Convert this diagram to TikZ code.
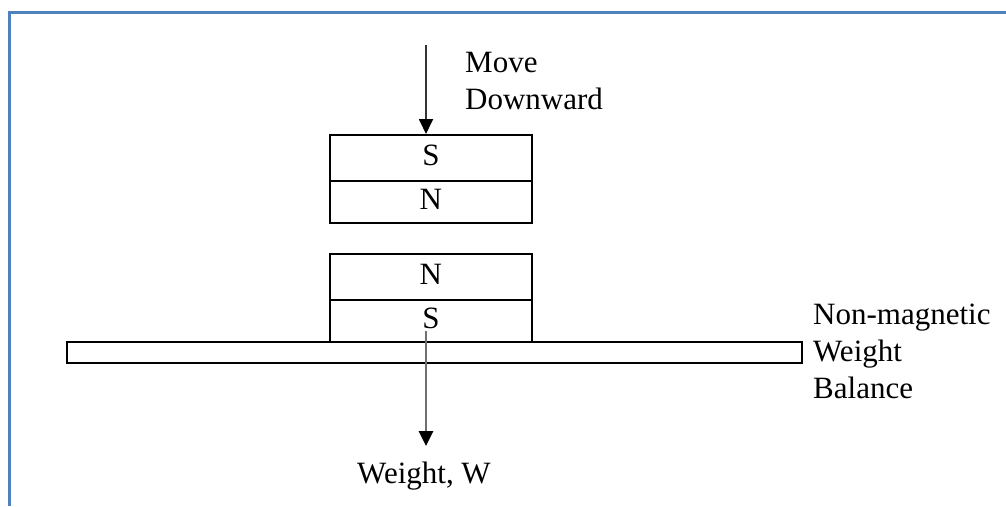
\documentclass[tikz,border=0pt]{standalone}
\usepackage{fontspec}
\setmainfont{Liberation Serif}
\usetikzlibrary{arrows.meta}
\definecolor{framecol}{RGB}{79,129,189}
\definecolor{wgray}{RGB}{112,112,112}
\tikzset{
  pole/.style={draw=black, line width=1.8pt, minimum width=202pt, inner sep=0pt, text height=20pt, text depth=5pt, font=\fontsize{31}{37}\selectfont},
  lbl/.style={inner sep=0pt, align=left, font=\fontsize{31}{37}\selectfont},
  arr/.style={-{Triangle[length=15pt,width=14pt,color=black]}},
}
\begin{document}
\begin{tikzpicture}[x=1pt,y=-1pt]
\useasboundingbox (0,0) rectangle (1006,506);
% frame
\draw[framecol, line width=3pt] (1006,12.5) -- (9.5,12.5) -- (9.5,506);
% balance platform
\node[draw=black, line width=1.8pt, minimum width=735pt, minimum height=21pt, inner sep=0pt, anchor=north west] (plat) at (66,341) {};
% top magnet
\node[pole, minimum height=46pt, anchor=north west] (tS) at (329,134) {S};
\node[pole, minimum height=42pt, anchor=north west] (tN) at (329,180) {N};
% bottom magnet
\node[pole, minimum height=46pt, anchor=north west] (bN) at (329,253) {N};
\node[pole, minimum height=42pt, anchor=north west] (bS) at (329,299) {S};
% arrows
\coordinate (mtop) at (426,45);
\draw[arr, line width=1.8pt, black!80] (mtop) -- (tS.north -| mtop);
\coordinate (wstart) at (426,331);
\coordinate (wend) at (426,446);
\draw[arr, line width=2.8pt, wgray] (wstart) -- (wend);
% labels
\node[lbl, anchor=north west] (move) at (465,52) {Move\\Downward};
\node[lbl, anchor=base] (wlab) at (424,483) {Weight, W};
\node[lbl, anchor=north west] (nmwb) at (813,304) {Non-magnetic\\Weight\\Balance};
\end{tikzpicture}
\end{document}
